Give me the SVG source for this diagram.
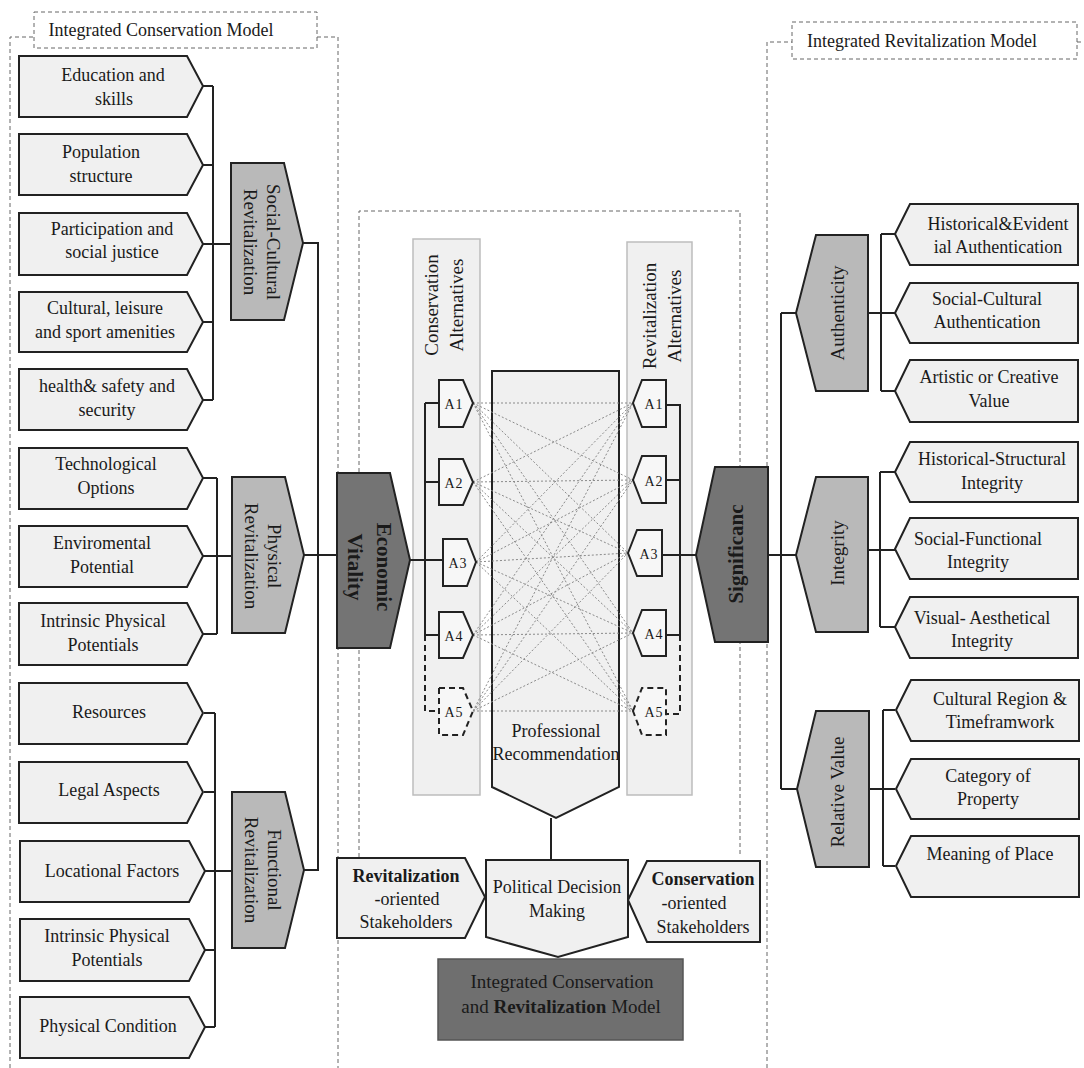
<svg xmlns="http://www.w3.org/2000/svg" width="1084" height="1068" viewBox="0 0 1084 1068">
<style>
text{font-family:"Liberation Serif","Times New Roman",serif;fill:#1a1a1a}
.t18{font-size:18px;text-anchor:middle}
.t19{font-size:19px;text-anchor:middle}
.b{font-weight:bold}
.ta{font-size:14px;text-anchor:middle;letter-spacing:1px}
.leaf{fill:#f0f0f0;stroke:#222;stroke-width:2}
.grp{fill:#b9b9b9;stroke:#222;stroke-width:2}
.dark{fill:#747474;stroke:#222;stroke-width:2}
.alt{fill:#f7f7f7;stroke:#222;stroke-width:2}
.altd{fill:#f7f7f7;stroke:#222;stroke-width:2;stroke-dasharray:6 4}
.panel{fill:#f0f0f0;stroke:#bdbdbd;stroke-width:1.5}
.frame{fill:none;stroke:#666;stroke-width:1;stroke-dasharray:4 3}
.ln{fill:none;stroke:#222;stroke-width:2}
.lnd{fill:none;stroke:#222;stroke-width:2;stroke-dasharray:6 4}
.dot{fill:none;stroke:#8a8a8a;stroke-width:1;stroke-dasharray:2 2}
</style>

<!-- frames -->
<g id="frames">
  <path class="frame" d="M10,1068 V37 H34 M317,37 H338 V1068"/>
  <rect class="frame" x="34" y="12" width="283" height="36" fill="none"/>
  <path class="frame" d="M767,1068 V42 H792 M1077,42 H1084"/>
  <rect class="frame" x="792" y="22" width="285" height="37"/>
  <path class="frame" d="M359,857 V211 H740 V857"/>
</g>
<g id="frame-labels">
  <text class="t18" x="161" y="36">Integrated Conservation Model</text>
  <text class="t18" x="922" y="47">Integrated Revitalization Model</text>
</g>

<!-- panels -->
<g id="panel-conservation">
  <rect class="panel" x="413" y="239" width="67" height="556"/>
  <text class="t19" transform="translate(446,305) rotate(-90)"><tspan x="0" y="-8">Conservation</tspan><tspan x="0" y="17">Alternatives</tspan></text>
</g>
<g id="panel-revitalization">
  <rect class="panel" x="627" y="242" width="65" height="553"/>
  <text class="t19" transform="translate(668,316) rotate(-90)"><tspan x="0" y="-12">Revitalization</tspan><tspan x="0" y="13">Alternatives</tspan></text>
</g>

<g id="professional-recommendation">
  <path class="leaf" d="M492,371 H619 V787 L556,818 L492,787 Z"/>
  <text class="t18" x="556" y="737">Professional</text>
  <text class="t18" x="556" y="760">Recommendation</text>
</g>

<!-- connectors -->
<g id="connectors">
  <!-- left group 1 -->
  <path class="ln" d="M202,86 H213 M202,165 H213 M202,244 H231 M202,322 H213 M202,400 H213 M213,86 V400"/>
  <!-- left group 2 -->
  <path class="ln" d="M202,478 H217 M202,556 H232 M202,634 H217 M217,478 V634"/>
  <!-- left group 3 -->
  <path class="ln" d="M204,713 H215 M204,792 H215 M204,871 H232 M204,950 H215 M204,1027 H215 M215,713 V1027"/>
  <!-- trunk left -->
  <path class="ln" d="M303,243 H318 V870 H304 M304,555 H338"/>
  <!-- economic to A -->
  <path class="ln" d="M410,560 H443 M425,403 V635 M425,403 H439 M425,482 H439 M425,635 H439"/>
  <path class="lnd" d="M425,635 V711 H439"/>
  <!-- revit A bracket -->
  <path class="ln" d="M666,405 H680 V635 H666 M666,480 H680 M662,555 H696"/>
  <path class="lnd" d="M680,635 V714 H666"/>
  <!-- right trunk -->
  <path class="ln" d="M768,555 H796 M781,313 V789 M781,313 H796 M781,789 H797"/>
  <!-- authenticity -->
  <path class="ln" d="M868,313 H895 M881,234 V391 M881,234 H895 M881,391 H895"/>
  <!-- integrity -->
  <path class="ln" d="M868,550 H895 M880,472 V627 M880,472 H895 M880,627 H895"/>
  <!-- relative value -->
  <path class="ln" d="M869,789 H895 M883,710 V866 M883,710 H895 M883,866 H895"/>
  <!-- professional to political -->
  <path class="ln" d="M551,818 V860"/>
  <!-- dotted alternatives links -->
  <path class="dot" d="
  M473,403 L633,403 M473,403 L633,480 M473,403 L628,553 M473,403 L633,633 M473,403 L633,711
  M473,482 L633,403 M473,482 L633,480 M473,482 L628,553 M473,482 L633,633 M473,482 L633,711
  M476,562 L633,403 M476,562 L633,480 M476,562 L628,553 M476,562 L633,633 M476,562 L633,711
  M473,635 L633,403 M473,635 L633,480 M473,635 L628,553 M473,635 L633,633 M473,635 L633,711
  M473,711 L633,403 M473,711 L633,480 M473,711 L628,553 M473,711 L633,633 M473,711 L633,711"/>
</g>

<!-- left leaves -->
<g id="leaf-education"><path class="leaf" d="M19,56 H187 L203,86 L187,117 H19 Z"/><text class="t18" x="113" y="81">Education and</text><text class="t18" x="114" y="105">skills</text></g>
<g id="leaf-population"><path class="leaf" d="M19,134 H187 L203,165 L187,195 H19 Z"/><text class="t18" x="101" y="158">Population</text><text class="t18" x="101" y="182">structure</text></g>
<g id="leaf-participation"><path class="leaf" d="M19,213 H187 L203,244 L187,275 H19 Z"/><text class="t18" x="112" y="235">Participation and</text><text class="t18" x="112" y="258">social justice</text></g>
<g id="leaf-cultural"><path class="leaf" d="M19,292 H187 L203,322 L187,352 H19 Z"/><text class="t18" x="105" y="314">Cultural, leisure</text><text class="t18" x="105" y="338">and sport amenities</text></g>
<g id="leaf-health"><path class="leaf" d="M19,369 H187 L203,400 L187,430 H19 Z"/><text class="t18" x="107" y="392">health&amp; safety and</text><text class="t18" x="107" y="416">security</text></g>
<g id="leaf-technological"><path class="leaf" d="M19,448 H187 L203,478 L187,509 H19 Z"/><text class="t18" x="106" y="470">Technological</text><text class="t18" x="106" y="494">Options</text></g>
<g id="leaf-enviromental"><path class="leaf" d="M19,526 H187 L203,556 L187,587 H19 Z"/><text class="t18" x="102" y="549">Enviromental</text><text class="t18" x="102" y="573">Potential</text></g>
<g id="leaf-intrinsic1"><path class="leaf" d="M19,603 H187 L203,634 L187,665 H19 Z"/><text class="t18" x="103" y="627">Intrinsic Physical</text><text class="t18" x="103" y="651">Potentials</text></g>
<g id="leaf-resources"><path class="leaf" d="M19,683 H187 L203,713 L187,744 H19 Z"/><text class="t18" x="109" y="718">Resources</text></g>
<g id="leaf-legal"><path class="leaf" d="M19,762 H187 L203,792 L187,823 H19 Z"/><text class="t18" x="109" y="796">Legal Aspects</text></g>
<g id="leaf-locational"><path class="leaf" d="M20,841 H189 L205,871 L189,902 H20 Z"/><text class="t18" x="112" y="877">Locational Factors</text></g>
<g id="leaf-intrinsic2"><path class="leaf" d="M20,919 H189 L205,950 L189,981 H20 Z"/><text class="t18" x="107" y="942">Intrinsic Physical</text><text class="t18" x="107" y="966">Potentials</text></g>
<g id="leaf-physical-condition"><path class="leaf" d="M20,997 H189 L205,1027 L189,1058 H20 Z"/><text class="t18" x="108" y="1032">Physical Condition</text></g>

<!-- left group nodes -->
<g id="node-social-cultural"><path class="grp" d="M231,163 H284 L303,243 L284,320 H231 Z"/><text class="t19" transform="translate(257,242) rotate(90)"><tspan x="0" y="-10">Social-Cultural</tspan><tspan x="0" y="13">Revitalization</tspan></text></g>
<g id="node-physical"><path class="grp" d="M232,477 H285 L304,555 L285,633 H232 Z"/><text class="t19" transform="translate(258,556) rotate(90)"><tspan x="0" y="-10">Physical</tspan><tspan x="0" y="13">Revitalization</tspan></text></g>
<g id="node-functional"><path class="grp" d="M232,792 H285 L304,870 L285,948 H232 Z"/><text class="t19" transform="translate(258,870) rotate(90)"><tspan x="0" y="-10">Functional</tspan><tspan x="0" y="13">Revitalization</tspan></text></g>

<g id="node-economic-vitality"><path class="dark" d="M337,473 H390 L410,560 L390,648 H337 Z"/><text class="t19 b" style="font-size:21px" transform="translate(364,567) rotate(90)"><tspan x="0" y="-13">Economic</tspan><tspan x="0" y="16">Vitality</tspan></text></g>

<!-- conservation alternatives -->
<g id="ca-a1"><path class="alt" d="M439,380 H463 L473,403 L463,427 H439 Z"/><text class="ta" x="454" y="409">A1</text></g>
<g id="ca-a2"><path class="alt" d="M439,459 H463 L473,482 L463,505 H439 Z"/><text class="ta" x="454" y="488">A2</text></g>
<g id="ca-a3"><path class="alt" d="M443,539 H467 L476,562 L467,586 H443 Z"/><text class="ta" x="458" y="568">A3</text></g>
<g id="ca-a4"><path class="alt" d="M439,612 H463 L473,635 L463,658 H439 Z"/><text class="ta" x="454" y="641">A4</text></g>
<g id="ca-a5"><path class="altd" d="M439,688 H463 L473,711 L463,735 H439 Z"/><text class="ta" x="454" y="717">A5</text></g>

<!-- revitalization alternatives -->
<g id="ra-a1"><path class="alt" d="M633,403 L642,380 H666 V427 H642 Z"/><text class="ta" x="654" y="409">A1</text></g>
<g id="ra-a2"><path class="alt" d="M633,480 L642,456 H666 V503 H642 Z"/><text class="ta" x="654" y="486">A2</text></g>
<g id="ra-a3"><path class="alt" d="M628,553 L637,530 H662 V576 H637 Z"/><text class="ta" x="649" y="559">A3</text></g>
<g id="ra-a4"><path class="alt" d="M633,633 L642,610 H666 V656 H642 Z"/><text class="ta" x="654" y="639">A4</text></g>
<g id="ra-a5"><path class="altd" d="M633,711 L642,688 H666 V735 H642 Z"/><text class="ta" x="654" y="717">A5</text></g>

<!-- bottom center -->
<g id="node-political"><path class="leaf" d="M486,860 H628 V937 L558,957 L486,937 Z"/><text class="t18" x="557" y="893">Political Decision</text><text class="t18" x="557" y="917">Making</text></g>
<g id="node-revit-stakeholders"><path class="leaf" d="M337,858 H465 L485,897 L465,938 H337 Z"/><text class="t18 b" x="406" y="882">Revitalization</text><text class="t18" x="407" y="905">-oriented</text><text class="t18" x="406" y="928">Stakeholders</text></g>
<g id="node-cons-stakeholders"><path class="leaf" d="M628,900 L647,861 H760 V942 H647 Z"/><text class="t18 b" x="703" y="885">Conservation</text><text class="t18" x="694" y="909">-oriented</text><text class="t18" x="703" y="933">Stakeholders</text></g>
<g id="node-integrated"><rect x="438" y="959" width="245" height="81" fill="#6f6f6f" stroke="#555" stroke-width="1.5"/><text class="t19" x="562" y="988">Integrated Conservation</text><text class="t19" x="561" y="1013">and <tspan class="b">Revitalization</tspan> Model</text></g>

<!-- right side -->
<g id="node-significance"><path class="dark" d="M696,555 L715,467 H768 V642 H715 Z"/><text class="t19 b" style="font-size:21px" transform="translate(741,554) rotate(-90)"><tspan x="0" y="2">Significanc</tspan></text></g>
<g id="node-authenticity"><path class="grp" d="M796,313 L816,235 H868 V391 H816 Z"/><text class="t19" transform="translate(842,313) rotate(-90)"><tspan x="0" y="2">Authenticity</tspan></text></g>
<g id="node-integrity"><path class="grp" d="M796,555 L816,477 H868 V632 H816 Z"/><text class="t19" transform="translate(842,553) rotate(-90)"><tspan x="0" y="2">Integrity</tspan></text></g>
<g id="node-relative-value"><path class="grp" d="M797,789 L816,711 H869 V867 H816 Z"/><text class="t19" transform="translate(842,792) rotate(-90)"><tspan x="0" y="2">Relative Value</tspan></text></g>

<g id="leaf-hist-evidential"><path class="leaf" d="M895,234 L910,204 H1078 V265 H910 Z"/><text class="t18" x="998" y="230">Historical&amp;Evident</text><text class="t18" x="998" y="253">ial Authentication</text></g>
<g id="leaf-social-cultural-auth"><path class="leaf" d="M895,313 L910,283 H1078 V343 H910 Z"/><text class="t18" x="987" y="305">Social-Cultural</text><text class="t18" x="987" y="328">Authentication</text></g>
<g id="leaf-artistic"><path class="leaf" d="M895,391 L910,360 H1078 V422 H910 Z"/><text class="t18" x="989" y="383">Artistic or Creative</text><text class="t18" x="989" y="407">Value</text></g>
<g id="leaf-hist-structural"><path class="leaf" d="M895,472 L910,442 H1078 V502 H910 Z"/><text class="t18" x="992" y="465">Historical-Structural</text><text class="t18" x="992" y="489">Integrity</text></g>
<g id="leaf-social-functional"><path class="leaf" d="M895,549 L910,518 H1078 V579 H910 Z"/><text class="t18" x="978" y="545">Social-Functional</text><text class="t18" x="978" y="568">Integrity</text></g>
<g id="leaf-visual"><path class="leaf" d="M895,627 L910,597 H1078 V658 H910 Z"/><text class="t18" x="982" y="624">Visual- Aesthetical</text><text class="t18" x="982" y="647">Integrity</text></g>
<g id="leaf-cultural-region"><path class="leaf" d="M896,710 L911,680 H1079 V741 H911 Z"/><text class="t18" x="1000" y="705">Cultural Region &amp;</text><text class="t18" x="1000" y="728">Timeframwork</text></g>
<g id="leaf-category"><path class="leaf" d="M896,789 L911,759 H1079 V819 H911 Z"/><text class="t18" x="988" y="782">Category of</text><text class="t18" x="988" y="805">Property</text></g>
<g id="leaf-meaning"><path class="leaf" d="M896,866 L911,836 H1079 V897 H911 Z"/><text class="t18" x="990" y="860">Meaning of Place</text></g>
</svg>
